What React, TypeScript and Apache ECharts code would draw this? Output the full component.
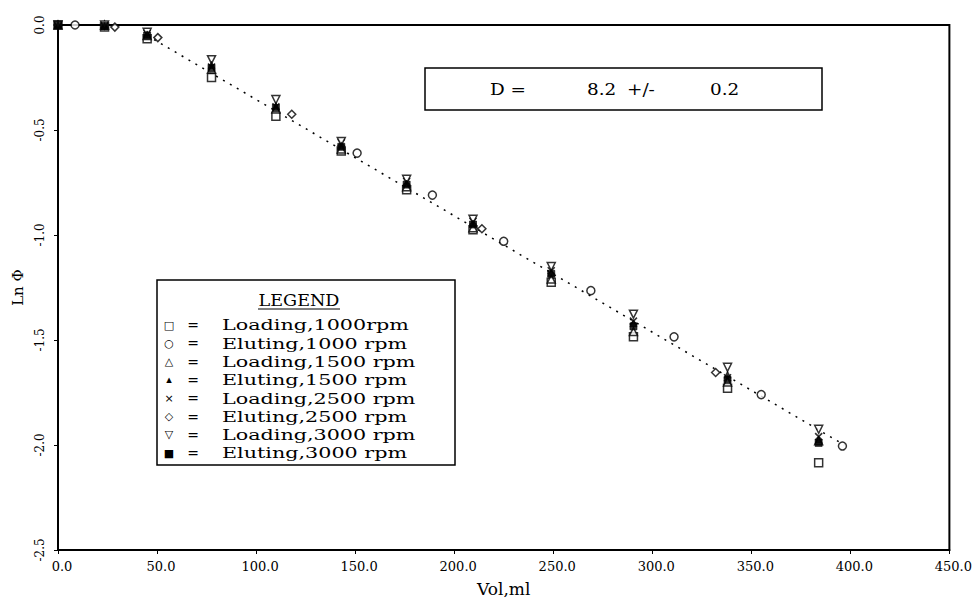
import React, { useEffect, useRef } from "react";
import * as echarts from "echarts";

// ---- data ----
const seriesNames = [
  "Loading,1000rpm",
  "Eluting,1000 rpm",
  "Loading,1500 rpm",
  "Eluting,1500 rpm",
  "Loading,2500 rpm",
  "Eluting,2500 rpm",
  "Loading,3000 rpm",
  "Eluting,3000 rpm",
];
const legendGlyphs = ["□", "○", "△", "▴", "×", "◇", "▽", "■"];

const loadVol = [0, 23.5, 45, 77.5, 110, 143, 176, 209.5, 249, 290.5, 338, 384];
const loading1000 = [0, -0.01, -0.065, -0.25, -0.435, -0.6, -0.785, -0.975, -1.225, -1.485, -1.73, -2.085];
const loading1500 = [0, 0, -0.05, -0.21, -0.4, -0.59, -0.77, -0.965, -1.21, -1.46, -1.7, -1.98];
const eluting1500 = [0, -0.005, -0.045, -0.19, -0.385, -0.575, -0.755, -0.945, -1.18, -1.42, -1.665, -1.975];
const loading2500 = [0, 0, -0.04, -0.2, -0.39, -0.56, -0.745, -0.935, -1.17, -1.41, -1.68, -1.96];
const loading3000 = [0, 0, -0.035, -0.165, -0.355, -0.555, -0.735, -0.925, -1.15, -1.377, -1.63, -1.925];
const eluting3000 = [0, -0.005, -0.05, -0.205, -0.395, -0.58, -0.76, -0.95, -1.185, -1.435, -1.69, -1.99];

const eluting1000Vol = [8.6, 151, 189, 225, 269, 311, 355, 396];
const eluting1000 = [0, -0.61, -0.81, -1.03, -1.265, -1.485, -1.76, -2.005];
const eluting2500Vol = [0, 28.7, 50.4, 118, 214, 332];
const eluting2500 = [0, -0.01, -0.06, -0.425, -0.97, -1.655];

const fitVol = [45, 397];
const fitLnPhi = [-0.05, -2.0];

const dLabel = ["D =", "8.2", "+/-", "0.2"];

const zip = (xs: number[], ys: number[]) => xs.map((x, i) => [x, ys[i]]);

const SERIF = '"DejaVu Serif", "Liberation Serif", serif';

export default function App() {
  const ref = useRef<HTMLDivElement>(null);
  useEffect(() => {
    document.body.style.margin = "0";
    const chart = echarts.init(ref.current!, null, { renderer: "svg" });

    const open = { color: "#fff", borderColor: "#000", borderWidth: 1.5 };
    const filled = { color: "#000", borderColor: "#000", borderWidth: 0.8 };

    const pts = [
      { name: seriesNames[0], data: zip(loadVol, loading1000), symbol: "rect", size: 8, style: open, rot: 0 },
      { name: seriesNames[1], data: zip(eluting1000Vol, eluting1000), symbol: "circle", size: 8, style: open, rot: 0 },
      { name: seriesNames[2], data: zip(loadVol, loading1500), symbol: "triangle", size: 8, style: open, rot: 0 },
      { name: seriesNames[4], data: zip(loadVol, loading2500), symbol: "path://M0,0L10,10M10,0L0,10", size: 7, style: { color: "none", borderColor: "#000", borderWidth: 1.6 }, rot: 0 },
      { name: seriesNames[5], data: zip(eluting2500Vol, eluting2500), symbol: "diamond", size: 8, style: open, rot: 0 },
      { name: seriesNames[6], data: zip(loadVol, loading3000), symbol: "triangle", size: 8, style: open, rot: 180 },
      { name: seriesNames[3], data: zip(loadVol, eluting1500), symbol: "triangle", size: 7, style: filled, rot: 0 },
      { name: seriesNames[7], data: zip(loadVol, eluting3000), symbol: "rect", size: 7, style: filled, rot: 0 },
    ];

    const series: any[] = [
      {
        type: "line",
        name: "fit",
        data: zip(fitVol, fitLnPhi),
        showSymbol: false,
        symbol: "none",
        lineStyle: { color: "#000", width: 1.5, type: [2, 6] },
        z: 1,
      },
      ...pts.map((p, i) => ({
        type: "scatter",
        name: p.name,
        data: p.data,
        symbol: p.symbol,
        symbolSize: p.size,
        symbolRotate: p.rot,
        itemStyle: p.style,
        z: 3 + i,
      })),
    ];

    const rowY0 = 325;
    const rowStep = 18.3;
    const legendEls: any[] = [
      {
        type: "rect",
        shape: { x: 157, y: 280, width: 298, height: 185 },
        style: { fill: "#fff", stroke: "#000", lineWidth: 1.5 },
        z: 20,
      },
      {
        type: "text",
        x: 299,
        y: 300,
        scaleX: 1.1,
        style: { text: "LEGEND", font: `16px ${SERIF}`, fill: "#000", align: "center", verticalAlign: "middle", textAlign: "center", textVerticalAlign: "middle" },
        z: 21,
      },
      {
        type: "line",
        shape: { x1: 258, y1: 309, x2: 340, y2: 309 },
        style: { stroke: "#000", lineWidth: 1 },
        z: 21,
      },
    ];
    seriesNames.forEach((n, i) => {
      const y = rowY0 + i * rowStep;
      legendEls.push(
        {
          type: "text",
          x: 169,
          y,
          style: { text: legendGlyphs[i], font: `11px "DejaVu Sans"`, fill: "#000", align: "center", verticalAlign: "middle", textAlign: "center", textVerticalAlign: "middle" },
          z: 21,
        },
        {
          type: "text",
          x: 193,
          y,
          style: { text: "=", font: `14px ${SERIF}`, fill: "#000", align: "center", verticalAlign: "middle", textAlign: "center", textVerticalAlign: "middle" },
          z: 21,
        },
        {
          type: "text",
          x: 222,
          y,
          scaleX: 1.38,
          style: { text: n, font: `15px ${SERIF}`, fill: "#000", align: "left", verticalAlign: "middle", textAlign: "left", textVerticalAlign: "middle" },
          z: 21,
        }
      );
    });

    const dXs = [490, 587, 627, 710];
    const dEls: any[] = [
      {
        type: "rect",
        shape: { x: 425, y: 68, width: 397, height: 42 },
        style: { fill: "#fff", stroke: "#000", lineWidth: 1.5 },
        z: 20,
      },
      ...dLabel.map((t, i) => ({
        type: "text",
        x: dXs[i],
        y: 89,
        scaleX: 1.15,
        style: { text: t, font: `16px ${SERIF}`, fill: "#000", align: "left", verticalAlign: "middle", textAlign: "left", textVerticalAlign: "middle" },
        z: 21,
      })),
    ];

    chart.setOption({
      animation: false,
      backgroundColor: "#fff",
      grid: {
        left: 58,
        right: 24,
        top: 25,
        bottom: 47,
        show: true,
        borderColor: "#000",
        borderWidth: 2,
        backgroundColor: "transparent",
      },
      xAxis: {
        type: "value",
        min: 0,
        max: 450,
        interval: 50,
        name: "Vol,ml",
        nameLocation: "middle",
        nameGap: 30,
        nameTextStyle: { fontFamily: SERIF, fontSize: 17, color: "#000" },
        axisLine: { show: true, onZero: false, lineStyle: { color: "#000", width: 2 } },
        axisTick: { show: true, length: 4, lineStyle: { color: "#000" } },
        axisLabel: {
          color: "#000",
          fontFamily: SERIF,
          fontSize: 13,
          margin: 10,
          padding: [0, 0, 0, 8],
          formatter: (v: number) => v.toFixed(1),
        },
        splitLine: { show: false },
      },
      yAxis: {
        type: "value",
        min: -2.5,
        max: 0,
        interval: 0.5,
        name: "Ln Φ",
        nameLocation: "middle",
        nameRotate: 90,
        nameGap: 33,
        nameTextStyle: { fontFamily: SERIF, fontSize: 15, color: "#000" },
        axisLine: { show: true, onZero: false, lineStyle: { color: "#000", width: 2 } },
        axisTick: { show: true, length: 4, lineStyle: { color: "#000" } },
        axisLabel: {
          color: "#000",
          fontFamily: SERIF,
          fontSize: 12,
          rotate: 90,
          margin: 12,
          formatter: (v: number) => v.toFixed(1),
        },
        splitLine: { show: false },
      },
      series,
      graphic: [...dEls, ...legendEls],
    });

    return () => chart.dispose();
  }, []);

  return (
    <div
      ref={ref}
      style={{ position: "fixed", left: 0, top: 0, width: 975, height: 602, background: "#fff" }}
    />
  );
}
